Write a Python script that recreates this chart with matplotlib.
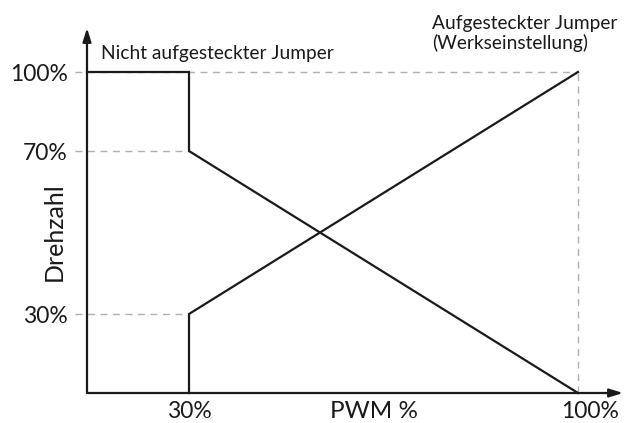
"""PWM vs Drehzahl schematic (jumper modes)."""
import numpy as np
import matplotlib.pyplot as plt
from matplotlib.scale import FuncScale
from matplotlib.transforms import ScaledTranslation

plt.rcParams['font.family'] = ['Lato', 'DejaVu Sans']

# curves in (PWM %, Drehzahl %)
pwm_open = [30, 30, 100]
rpm_open = [100, 70, 0]
pwm_jumper = [30, 30, 100]
rpm_jumper = [0, 30, 100]
# the open-jumper curve starts at the y axis
pwm_open_top = [0, 30]
rpm_open_top = [100, 100]

y_ticks = [30, 70, 100]
y_ticklabels = ["30%", "70%", "100%"]
x_ticks = [30, 100]
x_ticklabels = ["30%", "100%"]

# schematic (non-linear) axis layout: data knots -> pixel positions
x_knots = [-50, 0, 30, 100, 200]
x_pix = [-83, 87, 189, 578, 1133.7]
y_knots = [-50, 0, 30, 70, 100, 200]
y_pix = [-101.7, 30, 109, 272, 351, 614.3]

W, H = 625, 423
fig = plt.figure(figsize=(W / 100, H / 100), dpi=100)
ax = fig.add_axes([0, 0, 1, 1])

ax.set_xscale(FuncScale(ax.xaxis, (lambda v: np.interp(v, x_knots, x_pix),
                                   lambda p: np.interp(p, x_pix, x_knots))))
ax.set_yscale(FuncScale(ax.yaxis, (lambda v: np.interp(v, y_knots, y_pix),
                                   lambda p: np.interp(p, y_pix, y_knots))))
ax.set_xlim(np.interp(0, x_pix, x_knots), np.interp(W, x_pix, x_knots))
ax.set_ylim(np.interp(0, y_pix, y_knots), np.interp(H, y_pix, y_knots))

ink = "#1a1a1a"
line_kw = dict(color=ink, lw=1.6, solid_joinstyle="miter")
dash_kw = dict(color="#b0b0b0", lw=1.0, linestyle=(0, (5, 4)))

# guide lines
x0 = np.interp(75, x_pix, x_knots)
ax.plot([x0, 100], [100, 100], **dash_kw)
ax.plot([x0, 30], [70, 70], **dash_kw)
ax.plot([x0, 30], [30, 30], **dash_kw)
ax.plot([100, 100], [0, 100], **dash_kw)

ax.plot(pwm_open_top + pwm_open[1:], rpm_open_top + rpm_open[1:], **line_kw)
ax.plot(pwm_jumper, rpm_jumper, **line_kw)

# axes with arrows
arrow = dict(arrowstyle="-|>,head_length=0.8,head_width=0.25", color=ink,
             lw=1.6, shrinkA=0, shrinkB=0)
ax.annotate("", xy=(0, 1 - 28 / H), xycoords=("data", "axes fraction"),
            xytext=(0, 0), textcoords="data", arrowprops=arrow)
ax.annotate("", xy=(623 / W, 0), xycoords=("axes fraction", "data"),
            xytext=(0, 0), textcoords="data", arrowprops=arrow)

for s in ax.spines.values():
    s.set_visible(False)
ax.spines["left"].set_position(("data", 0))
ax.spines["bottom"].set_position(("data", 0))
ax.set_yticks(y_ticks, y_ticklabels, fontsize=16.5, color=ink)
ax.set_xticks(x_ticks, x_ticklabels, fontsize=16.5, color=ink)
ax.tick_params(length=0)
ax.tick_params(axis="y", pad=14)
ax.tick_params(axis="x", pad=6)
ax.minorticks_off()
lab = ax.get_xticklabels()[1]
lab.set_transform(lab.get_transform() + ScaledTranslation(0.12, 0, fig.dpi_scale_trans))

ax.text(374 / W, 1 - 411 / H, "PWM %", transform=ax.transAxes, fontsize=17.5,
        ha="center", va="center", color=ink)
ax.text(54 / W, 1 - 232 / H, "Drehzahl", transform=ax.transAxes, fontsize=18,
        ha="center", va="center", rotation=90, color=ink)
ax.text(101 / W, 1 - 54 / H, "Nicht aufgesteckter Jumper", transform=ax.transAxes,
        fontsize=13.8, ha="left", va="center", color=ink)
ax.text(432 / W, 1 - 15 / H, "Aufgesteckter Jumper\n(Werkseinstellung)",
        transform=ax.transAxes, fontsize=13.8, ha="left", va="top",
        linespacing=1.15, color=ink)

fig.savefig("out.png", dpi=100)
